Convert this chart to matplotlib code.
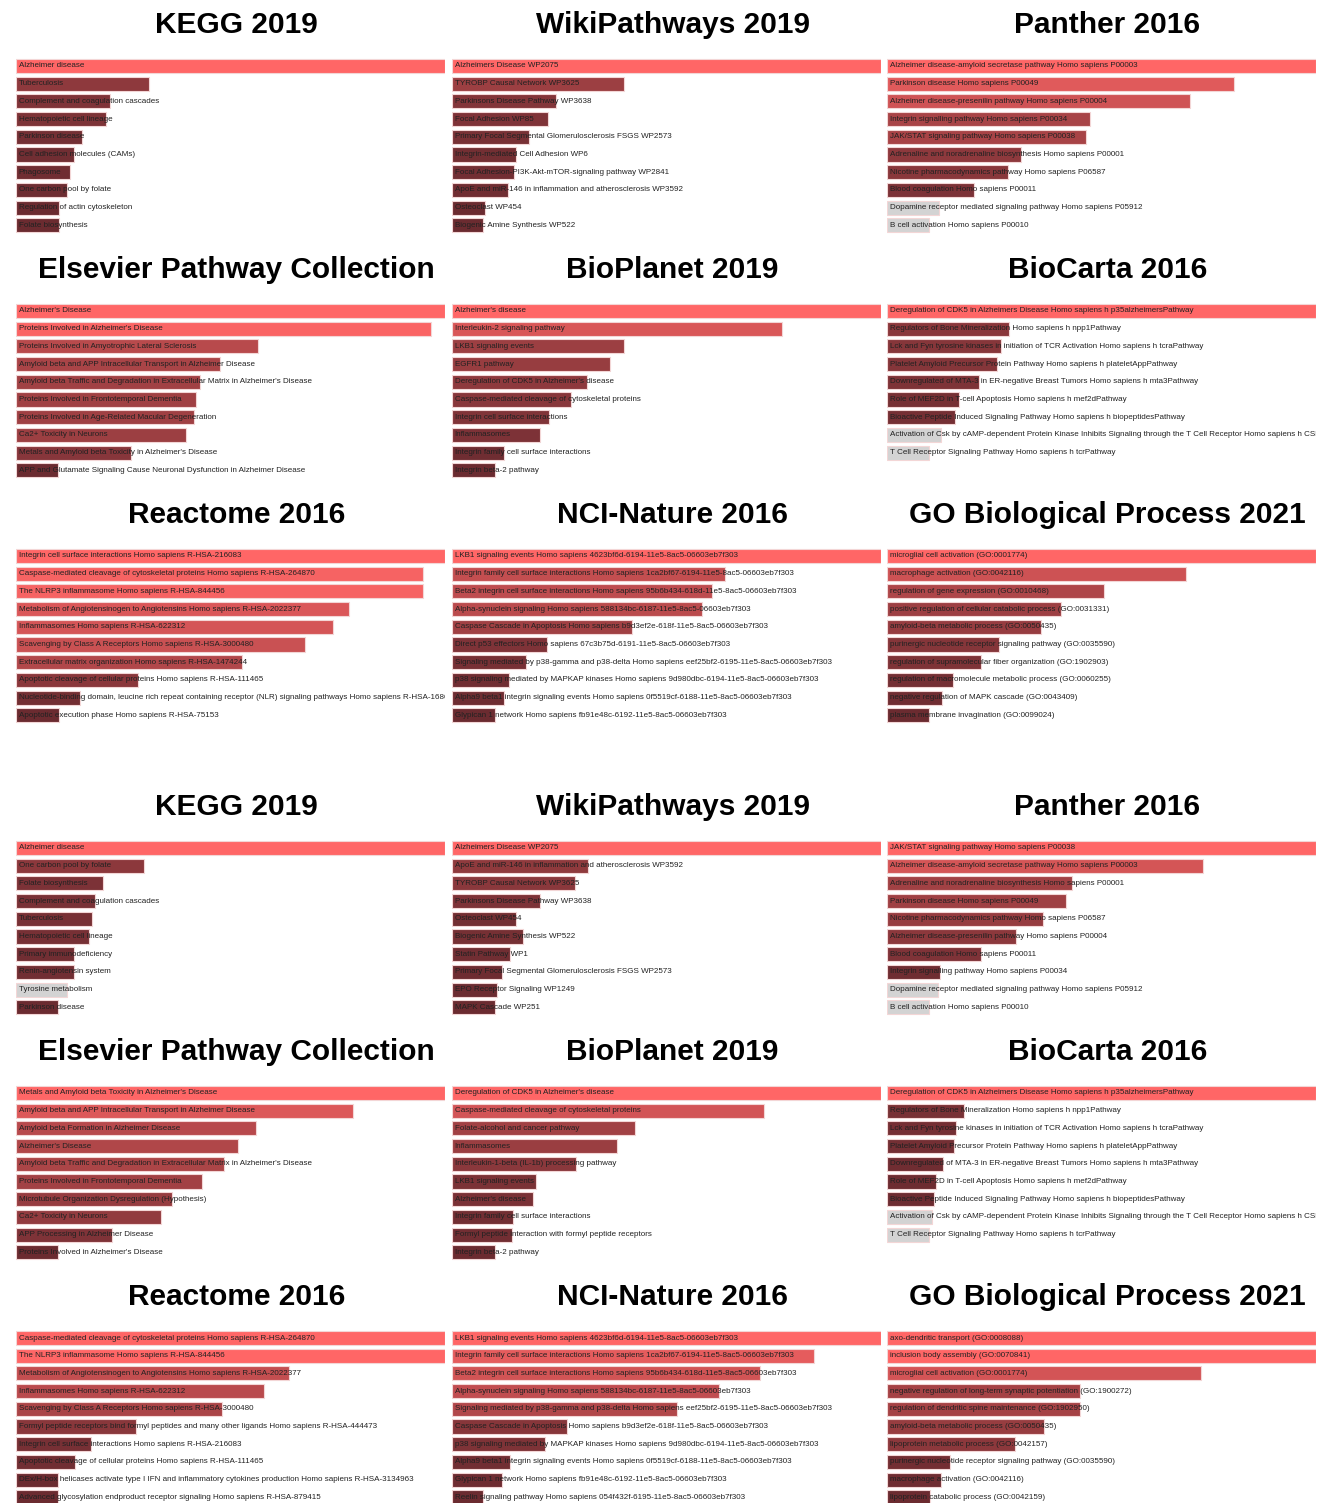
import numpy as np
import matplotlib
matplotlib.use("Agg")
import matplotlib.pyplot as plt

# ---- data: relative bar length (top term = 1.0), non-significant term indices ----
kegg1_terms = ["Alzheimer disease", "Tuberculosis", "Complement and coagulation cascades",
               "Hematopoietic cell lineage", "Parkinson disease", "Cell adhesion molecules (CAMs)",
               "Phagosome", "One carbon pool by folate", "Regulation of actin cytoskeleton",
               "Folate biosynthesis"]
kegg1_scores = [1.0, 0.31, 0.22, 0.21, 0.155, 0.135, 0.127, 0.12, 0.10, 0.10]
kegg1_ns = []

wiki1_terms = ["Alzheimers Disease WP2075", "TYROBP Causal Network WP3625",
               "Parkinsons Disease Pathway WP3638", "Focal Adhesion WP85",
               "Primary Focal Segmental Glomerulosclerosis FSGS WP2573",
               "Integrin-mediated Cell Adhesion WP6",
               "Focal Adhesion-PI3K-Akt-mTOR-signaling pathway WP2841",
               "ApoE and miR-146 in inflammation and atherosclerosis WP3592",
               "Osteoclast WP454", "Biogenic Amine Synthesis WP522"]
wiki1_scores = [1.0, 0.40, 0.243, 0.224, 0.18, 0.15, 0.144, 0.131, 0.077, 0.072]
wiki1_ns = []

panther1_terms = ["Alzheimer disease-amyloid secretase pathway Homo sapiens P00003",
                  "Parkinson disease Homo sapiens P00049",
                  "Alzheimer disease-presenilin pathway Homo sapiens P00004",
                  "Integrin signalling pathway Homo sapiens P00034",
                  "JAK/STAT signaling pathway Homo sapiens P00038",
                  "Adrenaline and noradrenaline biosynthesis Homo sapiens P00001",
                  "Nicotine pharmacodynamics pathway Homo sapiens P06587",
                  "Blood coagulation Homo sapiens P00011",
                  "Dopamine receptor mediated signaling pathway Homo sapiens P05912",
                  "B cell activation Homo sapiens P00010"]
panther1_scores = [1.0, 0.81, 0.706, 0.473, 0.463, 0.312, 0.282, 0.203, 0.122, 0.097]
panther1_ns = [8, 9]

elsevier1_terms = ["Alzheimer's Disease", "Proteins Involved in Alzheimer's Disease",
                   "Proteins Involved in Amyotrophic Lateral Sclerosis",
                   "Amyloid beta and APP Intracellular Transport in Alzheimer Disease",
                   "Amyloid beta Traffic and Degradation in Extracellular Matrix in Alzheimer's Disease",
                   "Proteins Involved in Frontotemporal Dementia",
                   "Proteins Involved in Age-Related Macular Degeneration",
                   "Ca2+ Toxicity in Neurons",
                   "Metals and Amyloid beta Toxicity in Alzheimer's Disease",
                   "APP and Glutamate Signaling Cause Neuronal Dysfunction in Alzheimer Disease"]
elsevier1_scores = [1.0, 0.968, 0.565, 0.476, 0.429, 0.419, 0.414, 0.397, 0.269, 0.099]
elsevier1_ns = []

bioplanet1_terms = ["Alzheimer's disease", "Interleukin-2 signaling pathway", "LKB1 signaling events",
                    "EGFR1 pathway", "Deregulation of CDK5 in Alzheimer's disease",
                    "Caspase-mediated cleavage of cytoskeletal proteins",
                    "Integrin cell surface interactions", "Inflammasomes",
                    "Integrin family cell surface interactions", "Integrin beta-2 pathway"]
bioplanet1_scores = [1.0, 0.77, 0.40, 0.368, 0.315, 0.278, 0.226, 0.206, 0.122, 0.10]
bioplanet1_ns = []

biocarta1_terms = ["Deregulation of CDK5 in Alzheimers Disease Homo sapiens h p35alzheimersPathway",
                   "Regulators of Bone Mineralization Homo sapiens h npp1Pathway",
                   "Lck and Fyn tyrosine kinases in initiation of TCR Activation Homo sapiens h tcraPathway",
                   "Platelet Amyloid Precursor Protein Pathway Homo sapiens h plateletAppPathway",
                   "Downregulated of MTA-3 in ER-negative Breast Tumors Homo sapiens h mta3Pathway",
                   "Role of MEF2D in T-cell Apoptosis Homo sapiens h mef2dPathway",
                   "Bioactive Peptide Induced Signaling Pathway Homo sapiens h biopeptidesPathway",
                   "Activation of Csk by cAMP-dependent Protein Kinase Inhibits Signaling through the T Cell Receptor Homo sapiens h CSKPathway",
                   "T Cell Receptor Signaling Pathway Homo sapiens h tcrPathway"]
biocarta1_scores = [1.0, 0.285, 0.265, 0.257, 0.215, 0.168, 0.158, 0.125, 0.097]
biocarta1_ns = [7, 8]

reactome1_terms = ["Integrin cell surface interactions Homo sapiens R-HSA-216083",
                   "Caspase-mediated cleavage of cytoskeletal proteins Homo sapiens R-HSA-264870",
                   "The NLRP3 inflammasome Homo sapiens R-HSA-844456",
                   "Metabolism of Angiotensinogen to Angiotensins Homo sapiens R-HSA-2022377",
                   "Inflammasomes Homo sapiens R-HSA-622312",
                   "Scavenging by Class A Receptors Homo sapiens R-HSA-3000480",
                   "Extracellular matrix organization Homo sapiens R-HSA-1474244",
                   "Apoptotic cleavage of cellular proteins Homo sapiens R-HSA-111465",
                   "Nucleotide-binding domain, leucine rich repeat containing receptor (NLR) signaling pathways Homo sapiens R-HSA-168643",
                   "Apoptotic execution phase Homo sapiens R-HSA-75153"]
reactome1_scores = [1.0, 0.948, 0.948, 0.776, 0.74, 0.674, 0.526, 0.285, 0.15, 0.10]
reactome1_ns = []

nci1_terms = ["LKB1 signaling events Homo sapiens 4623bf6d-6194-11e5-8ac5-06603eb7f303",
              "Integrin family cell surface interactions Homo sapiens 1ca2bf67-6194-11e5-8ac5-06603eb7f303",
              "Beta2 integrin cell surface interactions Homo sapiens 95b6b434-618d-11e5-8ac5-06603eb7f303",
              "Alpha-synuclein signaling Homo sapiens 588134bc-6187-11e5-8ac5-06603eb7f303",
              "Caspase Cascade in Apoptosis Homo sapiens b9d3ef2e-618f-11e5-8ac5-06603eb7f303",
              "Direct p53 effectors Homo sapiens 67c3b75d-6191-11e5-8ac5-06603eb7f303",
              "Signaling mediated by p38-gamma and p38-delta Homo sapiens eef25bf2-6195-11e5-8ac5-06603eb7f303",
              "p38 signaling mediated by MAPKAP kinases Homo sapiens 9d980dbc-6194-11e5-8ac5-06603eb7f303",
              "Alpha9 beta1 integrin signaling events Homo sapiens 0f5519cf-6188-11e5-8ac5-06603eb7f303",
              "Glypican 1 network Homo sapiens fb91e48c-6192-11e5-8ac5-06603eb7f303"]
nci1_scores = [1.0, 0.636, 0.607, 0.582, 0.419, 0.221, 0.172, 0.132, 0.122, 0.10]
nci1_ns = []

gobp1_terms = ["microglial cell activation (GO:0001774)", "macrophage activation (GO:0042116)",
               "regulation of gene expression (GO:0010468)",
               "positive regulation of cellular catabolic process (GO:0031331)",
               "amyloid-beta metabolic process (GO:0050435)",
               "purinergic nucleotide receptor signaling pathway (GO:0035590)",
               "regulation of supramolecular fiber organization (GO:1902903)",
               "regulation of macromolecule metabolic process (GO:0060255)",
               "negative regulation of MAPK cascade (GO:0043409)",
               "plasma membrane invagination (GO:0099024)"]
gobp1_scores = [1.0, 0.698, 0.505, 0.406, 0.359, 0.26, 0.218, 0.155, 0.129, 0.099]
gobp1_ns = []

kegg2_terms = ["Alzheimer disease", "One carbon pool by folate", "Folate biosynthesis",
               "Complement and coagulation cascades", "Tuberculosis", "Hematopoietic cell lineage",
               "Primary immunodeficiency", "Renin-angiotensin system", "Tyrosine metabolism",
               "Parkinson disease"]
kegg2_scores = [1.0, 0.298, 0.202, 0.185, 0.178, 0.17, 0.135, 0.135, 0.119, 0.099]
kegg2_ns = [8]

wiki2_terms = ["Alzheimers Disease WP2075",
               "ApoE and miR-146 in inflammation and atherosclerosis WP3592",
               "TYROBP Causal Network WP3625", "Parkinsons Disease Pathway WP3638",
               "Osteoclast WP454", "Biogenic Amine Synthesis WP522", "Statin Pathway WP1",
               "Primary Focal Segmental Glomerulosclerosis FSGS WP2573",
               "EPO Receptor Signaling WP1249", "MAPK Cascade WP251"]
wiki2_scores = [1.0, 0.318, 0.287, 0.206, 0.15, 0.166, 0.135, 0.117, 0.104, 0.10]
wiki2_ns = []

panther2_terms = ["JAK/STAT signaling pathway Homo sapiens P00038",
                  "Alzheimer disease-amyloid secretase pathway Homo sapiens P00003",
                  "Adrenaline and noradrenaline biosynthesis Homo sapiens P00001",
                  "Parkinson disease Homo sapiens P00049",
                  "Nicotine pharmacodynamics pathway Homo sapiens P06587",
                  "Alzheimer disease-presenilin pathway Homo sapiens P00004",
                  "Blood coagulation Homo sapiens P00011",
                  "Integrin signalling pathway Homo sapiens P00034",
                  "Dopamine receptor mediated signaling pathway Homo sapiens P05912",
                  "B cell activation Homo sapiens P00010"]
panther2_scores = [1.0, 0.736, 0.431, 0.417, 0.363, 0.30, 0.219, 0.123, 0.12, 0.099]
panther2_ns = [8, 9]

elsevier2_terms = ["Metals and Amyloid beta Toxicity in Alzheimer's Disease",
                   "Amyloid beta and APP Intracellular Transport in Alzheimer Disease",
                   "Amyloid beta Formation in Alzheimer Disease", "Alzheimer's Disease",
                   "Amyloid beta Traffic and Degradation in Extracellular Matrix in Alzheimer's Disease",
                   "Proteins Involved in Frontotemporal Dementia",
                   "Microtubule Organization Dysregulation (Hypothesis)",
                   "Ca2+ Toxicity in Neurons", "APP Processing in Alzheimer Disease",
                   "Proteins Involved in Alzheimer's Disease"]
elsevier2_scores = [1.0, 0.786, 0.56, 0.518, 0.486, 0.433, 0.363, 0.338, 0.224, 0.097]
elsevier2_ns = []

bioplanet2_terms = ["Deregulation of CDK5 in Alzheimer's disease",
                    "Caspase-mediated cleavage of cytoskeletal proteins",
                    "Folate-alcohol and cancer pathway", "Inflammasomes",
                    "Interleukin-1-beta (IL-1b) processing pathway", "LKB1 signaling events",
                    "Alzheimer's disease", "Integrin family cell surface interactions",
                    "Formyl peptide interaction with formyl peptide receptors",
                    "Integrin beta-2 pathway"]
bioplanet2_scores = [1.0, 0.728, 0.427, 0.384, 0.29, 0.196, 0.188, 0.142, 0.14, 0.10]
bioplanet2_ns = []

biocarta2_terms = list(biocarta1_terms)
biocarta2_scores = [1.0, 0.18, 0.161, 0.156, 0.131, 0.114, 0.11, 0.105, 0.099]
biocarta2_ns = [7, 8]

reactome2_terms = ["Caspase-mediated cleavage of cytoskeletal proteins Homo sapiens R-HSA-264870",
                   "The NLRP3 inflammasome Homo sapiens R-HSA-844456",
                   "Metabolism of Angiotensinogen to Angiotensins Homo sapiens R-HSA-2022377",
                   "Inflammasomes Homo sapiens R-HSA-622312",
                   "Scavenging by Class A Receptors Homo sapiens R-HSA-3000480",
                   "Formyl peptide receptors bind formyl peptides and many other ligands Homo sapiens R-HSA-444473",
                   "Integrin cell surface interactions Homo sapiens R-HSA-216083",
                   "Apoptotic cleavage of cellular proteins Homo sapiens R-HSA-111465",
                   "DEx/H-box helicases activate type I IFN and inflammatory cytokines production Homo sapiens R-HSA-3134963",
                   "Advanced glycosylation endproduct receptor signaling Homo sapiens R-HSA-879415"]
reactome2_scores = [1.0, 1.0, 0.636, 0.577, 0.481, 0.279, 0.175, 0.137, 0.098, 0.098]
reactome2_ns = []

nci2_terms = ["LKB1 signaling events Homo sapiens 4623bf6d-6194-11e5-8ac5-06603eb7f303",
              "Integrin family cell surface interactions Homo sapiens 1ca2bf67-6194-11e5-8ac5-06603eb7f303",
              "Beta2 integrin cell surface interactions Homo sapiens 95b6b434-618d-11e5-8ac5-06603eb7f303",
              "Alpha-synuclein signaling Homo sapiens 588134bc-6187-11e5-8ac5-06603eb7f303",
              "Signaling mediated by p38-gamma and p38-delta Homo sapiens eef25bf2-6195-11e5-8ac5-06603eb7f303",
              "Caspase Cascade in Apoptosis Homo sapiens b9d3ef2e-618f-11e5-8ac5-06603eb7f303",
              "p38 signaling mediated by MAPKAP kinases Homo sapiens 9d980dbc-6194-11e5-8ac5-06603eb7f303",
              "Alpha9 beta1 integrin signaling events Homo sapiens 0f5519cf-6188-11e5-8ac5-06603eb7f303",
              "Glypican 1 network Homo sapiens fb91e48c-6192-11e5-8ac5-06603eb7f303",
              "Reelin signaling pathway Homo sapiens 054f432f-6195-11e5-8ac5-06603eb7f303"]
nci2_scores = [1.0, 0.844, 0.719, 0.622, 0.525, 0.268, 0.216, 0.135, 0.117, 0.072]
nci2_ns = []

gobp2_terms = ["axo-dendritic transport (GO:0008088)", "inclusion body assembly (GO:0070841)",
               "microglial cell activation (GO:0001774)",
               "negative regulation of long-term synaptic potentiation (GO:1900272)",
               "regulation of dendritic spine maintenance (GO:1902950)",
               "amyloid-beta metabolic process (GO:0050435)",
               "lipoprotein metabolic process (GO:0042157)",
               "purinergic nucleotide receptor signaling pathway (GO:0035590)",
               "macrophage activation (GO:0042116)",
               "lipoprotein catabolic process (GO:0042159)"]
gobp2_scores = [1.0, 1.0, 0.731, 0.45, 0.45, 0.365, 0.298, 0.146, 0.125, 0.10]
gobp2_ns = []

titles = ["KEGG 2019", "WikiPathways 2019", "Panther 2016",
          "Elsevier Pathway Collection", "BioPlanet 2019", "BioCarta 2016",
          "Reactome 2016", "NCI-Nature 2016", "GO Biological Process 2021"]

panels = [
    (kegg1_terms, kegg1_scores, kegg1_ns), (wiki1_terms, wiki1_scores, wiki1_ns),
    (panther1_terms, panther1_scores, panther1_ns),
    (elsevier1_terms, elsevier1_scores, elsevier1_ns),
    (bioplanet1_terms, bioplanet1_scores, bioplanet1_ns),
    (biocarta1_terms, biocarta1_scores, biocarta1_ns),
    (reactome1_terms, reactome1_scores, reactome1_ns), (nci1_terms, nci1_scores, nci1_ns),
    (gobp1_terms, gobp1_scores, gobp1_ns),
    (kegg2_terms, kegg2_scores, kegg2_ns), (wiki2_terms, wiki2_scores, wiki2_ns),
    (panther2_terms, panther2_scores, panther2_ns),
    (elsevier2_terms, elsevier2_scores, elsevier2_ns),
    (bioplanet2_terms, bioplanet2_scores, bioplanet2_ns),
    (biocarta2_terms, biocarta2_scores, biocarta2_ns),
    (reactome2_terms, reactome2_scores, reactome2_ns), (nci2_terms, nci2_scores, nci2_ns),
    (gobp2_terms, gobp2_scores, gobp2_ns),
]

# ---- layout (pixels) ----
W, H = 1326, 1503
col_x = [16, 452, 887]
col_w = 429
row_first_bar = [66, 311, 556, 848, 1093, 1338]
pitch = 17.7

bright = np.array([1.0, 0.40, 0.40])
dark = np.array([0.42, 0.17, 0.19])
grey = "#d3d3d3"


def bar_color(v, vmax):
    t = np.clip((v / vmax - 0.1) / 0.9, 0, 1)
    return tuple(dark + t * (bright - dark))


fig = plt.figure(figsize=(W / 100, H / 100), dpi=100)

for k, (terms, scores, ns) in enumerate(panels):
    r, c = divmod(k, 3)
    top = row_first_bar[r] - pitch / 2
    h = pitch * 10
    ax = fig.add_axes([col_x[c] / W, 1 - (top + h) / H, col_w / W, h / H])
    vmax = max(scores)
    cols = [grey if i in ns else bar_color(s, vmax) for i, s in enumerate(scores)]
    y = np.arange(len(scores))
    ax.barh(y, scores, height=0.8, color=cols, edgecolor="#f3d6d6", linewidth=0.8)
    # long terms are cut at the panel edge, as in the source chart
    for i, t in enumerate(terms):
        ax.text(0.006 * vmax, i, t, va="center", ha="left", fontsize=5.8,
                family="Liberation Sans", color="#222222", clip_on=True)
    ax.set_xlim(0, vmax)
    ax.set_ylim(9.5, -0.5)
    ax.axis("off")

    fig.text((col_x[c] + col_w / 2 + 6) / W, 1 - (row_first_bar[r] - 41) / H,
             titles[k % 9], ha="center", va="center", fontsize=21.5,
             fontweight="bold", family="Liberation Sans")

fig.savefig("out.png", dpi=100)
